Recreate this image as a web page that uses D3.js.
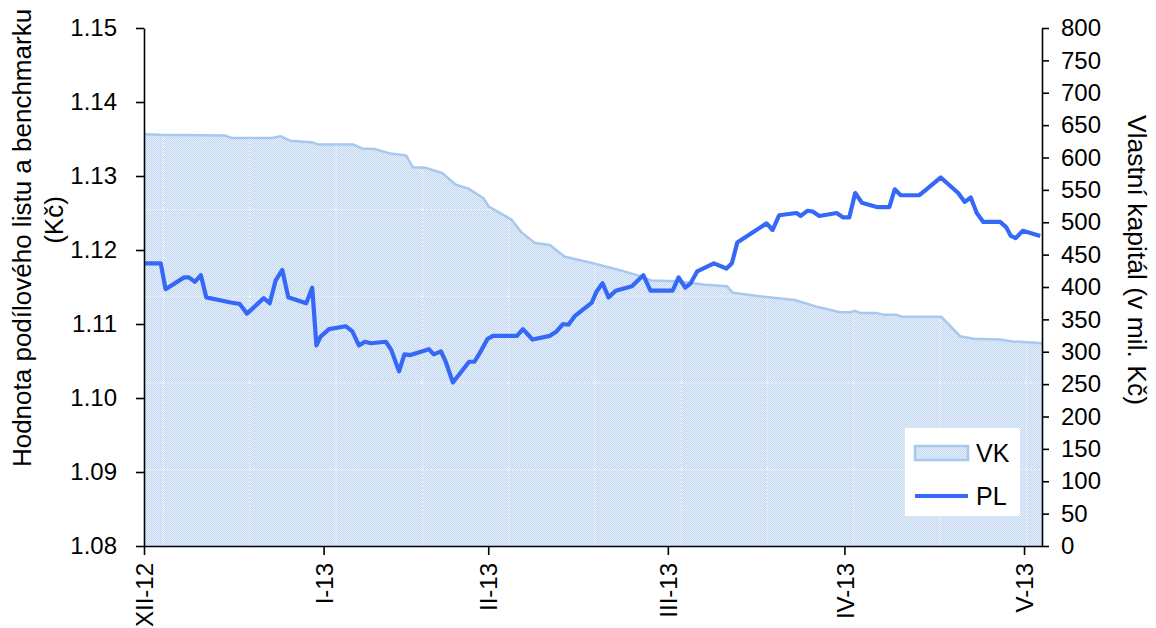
<!DOCTYPE html>
<html><head><meta charset="utf-8">
<script src="https://cdn.jsdelivr.net/npm/d3@7"></script>
<style>
body{margin:0;background:#fff}
text{font-family:"Liberation Sans",Arial,Helvetica,sans-serif;fill:#000}
</style>
</head><body>
<svg id="c" width="1156" height="628"></svg>
<script>
// ---- data ----
const xTickPos = [0, 30, 57.5, 87.5, 117, 147];
const xTickLabels = ["XII-12", "I-13", "II-13", "III-13", "IV-13", "V-13"];
const leftTicks = [1.08, 1.09, 1.10, 1.11, 1.12, 1.13, 1.14, 1.15];
const rightTicks = [0, 50, 100, 150, 200, 250, 300, 350, 400, 450, 500, 550, 600, 650, 700, 750, 800];

// PL (hodnota podílového listu) – day position, value in Kč
const plIdx = [0,2.8,3.6,6.7,7.5,8.5,9.5,10.4,14.5,16.0,17.2,20.0,21.0,22.0,23.1,24.1,27.1,28.1,28.8,29.5,30.9,33.7,34.8,35.9,36.9,37.9,40.4,41.3,42.6,43.5,44.5,47.6,48.4,49.6,50.4,51.6,54.3,55.2,56.1,57.4,58.3,62.3,63.3,64.9,67.8,68.9,70.0,70.9,72.0,74.8,75.6,76.6,77.6,78.8,81.5,83.4,84.6,88.3,89.3,90.4,91.3,92.4,95.2,97.3,98.2,99.1,104.0,105.0,106.1,109.0,109.7,110.8,111.7,112.8,115.7,116.8,117.8,118.8,119.9,122.4,124.5,125.4,126.4,129.5,130.4,131.6,133.1,136.0,137.1,138.1,139.1,140.2,143.0,144.0,144.8,145.6,146.8,149.7];
const plVal = [1.1182,1.1182,1.1147,1.1163,1.1163,1.1157,1.1166,1.1136,1.1129,1.1127,1.1114,1.1135,1.1128,1.1159,1.1173,1.1136,1.1128,1.1149,1.1071,1.1083,1.1093,1.1097,1.1090,1.1071,1.1076,1.1074,1.1076,1.1065,1.1036,1.1059,1.1058,1.1066,1.1059,1.1063,1.1049,1.1021,1.1049,1.1049,1.1061,1.1080,1.1084,1.1084,1.1093,1.1079,1.1084,1.1090,1.1100,1.1099,1.1111,1.1129,1.1144,1.1155,1.1136,1.1145,1.1151,1.1166,1.1145,1.1145,1.1163,1.1149,1.1155,1.1171,1.1182,1.1175,1.1182,1.1210,1.1236,1.1227,1.1247,1.1250,1.1246,1.1253,1.1252,1.1246,1.1250,1.1244,1.1244,1.1277,1.1264,1.1258,1.1258,1.1282,1.1274,1.1274,1.1280,1.1288,1.1298,1.1277,1.1265,1.1271,1.1250,1.1238,1.1238,1.1231,1.1219,1.1216,1.1226,1.1219];

// VK (vlastní kapitál) – day position, value in mil. Kč
const vkIdx = [0,2.8,13.5,14.7,21.4,22.8,24.4,28.3,29.1,35.0,36.4,38.6,41.2,43.8,44.9,47.1,49.8,52.1,54.2,56.7,57.6,59.5,61.4,63.1,65.3,67.8,70.2,74.8,79.5,82.5,84.7,89.0,93.4,97.4,98.4,102.5,108.7,112.2,116.3,117.9,118.8,119.6,122.4,123.6,125.8,126.6,133.2,136.3,138.6,143.0,145.0,146.9,150];
const vkVal = [636,635,634,630,630,633,626,623,620,620,614,613,606,603,585,584,576,558,552,537,524,514,504,484,468,465,447,437,426,418,410,409,404,401,391,386,380,370,361,361,363,360,360,357,357,354,354,324,320,319,316,315,313];

const leftTitle1 = "Hodnota podílového listu a benchmarku";
const leftTitle2 = "(Kč)";
const rightTitle = "Vlastní kapitál (v mil. Kč)";
const legendLabels = ["VK", "PL"];

// ---- chart ----
const svg = d3.select("#c");
const X0 = 144, X1 = 1042, YT = 28, YB = 546;
const x = d3.scaleLinear().domain([0, 150]).range([X0, X1]);
const yL = d3.scaleLinear().domain([1.08, 1.15]).range([YB, YT]);
const yR = d3.scaleLinear().domain([0, 800]).range([YB, YT]);

const pl = plIdx.map((d, i) => ({ i: d, v: plVal[i] }));
const vk = vkIdx.map((d, i) => ({ i: d, v: vkVal[i] }));

const defs = svg.append("defs");
const chk = defs.append("pattern").attr("id", "chk").attr("patternUnits", "userSpaceOnUse")
  .attr("width", 2).attr("height", 2);
chk.append("rect").attr("width", 2).attr("height", 2).attr("fill", "#e6eefa");
chk.append("rect").attr("width", 1).attr("height", 1).attr("fill", "#c2d8f3");
chk.append("rect").attr("x", 1).attr("y", 1).attr("width", 1).attr("height", 1).attr("fill", "#c2d8f3");

const grid = defs.append("pattern").attr("id", "grd").attr("patternUnits", "userSpaceOnUse")
  .attr("x", 163).attr("y", 209).attr("width", 86.3).attr("height", 86.7);
grid.append("line").attr("x1", 0.5).attr("x2", 0.5).attr("y1", 0).attr("y2", 86.7)
  .attr("stroke", "#fff").attr("stroke-width", 1).attr("stroke-dasharray", "2,2").attr("opacity", 0.75);
grid.append("line").attr("y1", 0.5).attr("y2", 0.5).attr("x1", 0).attr("x2", 86.3)
  .attr("stroke", "#fff").attr("stroke-width", 1).attr("stroke-dasharray", "2,2").attr("opacity", 0.75);

const area = d3.area().x(d => x(d.i)).y0(YB).y1(d => yR(d.v));
svg.append("path").datum(vk).attr("d", area).attr("fill", "url(#chk)");
svg.append("path").datum(vk).attr("d", area).attr("fill", "url(#grd)");
svg.append("path").datum(vk).attr("d", d3.line().x(d => x(d.i)).y(d => yR(d.v)))
  .attr("fill", "none").attr("stroke", "#a8c8ee").attr("stroke-width", 2.5).attr("stroke-linejoin", "round");

svg.append("path").datum(pl).attr("d", d3.line().x(d => x(d.i)).y(d => yL(d.v)))
  .attr("fill", "none").attr("stroke", "#3668f8").attr("stroke-width", 4.2).attr("stroke-linejoin", "round");

// axes
function style(g, fs) {
  g.selectAll(".domain").attr("stroke", "#000").attr("stroke-width", 1.6);
  g.selectAll(".tick line").attr("stroke", "#000").attr("stroke-width", 1.6);
  g.selectAll("text").style("font-size", fs + "px").attr("fill", "#000");
}
const gL = svg.append("g").attr("transform", `translate(${X0},0)`)
  .call(d3.axisLeft(yL).tickValues(leftTicks).tickFormat(d3.format(".2f")).tickSize(8).tickSizeOuter(0).tickPadding(19));
style(gL, 24);
gL.attr("font-family", null);

const gR = svg.append("g").attr("transform", `translate(${X1},0)`)
  .call(d3.axisRight(yR).tickValues(rightTicks).tickFormat(d3.format("d")).tickSize(7).tickSizeOuter(0).tickPadding(12));
style(gR, 24);
gR.attr("font-family", null);

const gB = svg.append("g").attr("transform", `translate(0,${YB})`)
  .call(d3.axisBottom(x).tickValues(xTickPos).tickFormat((d, i) => xTickLabels[i]).tickSize(9).tickSizeOuter(0));
style(gB, 24);
gB.attr("font-family", null);
gB.selectAll("text").attr("transform", "rotate(-90)").attr("text-anchor", "end")
  .attr("x", -17).attr("y", 0).attr("dy", "0.36em");

// titles
svg.append("text").attr("transform", "translate(31,238) rotate(-90)").attr("text-anchor", "middle")
  .style("font-size", "26px").text(leftTitle1);
svg.append("text").attr("transform", "translate(63,220) rotate(-90)").attr("text-anchor", "middle")
  .style("font-size", "26px").text(leftTitle2);
svg.append("text").attr("transform", "translate(1128,260) rotate(90)").attr("text-anchor", "middle")
  .style("font-size", "26.5px").text(rightTitle);

// legend
const lg = svg.append("g");
lg.append("rect").attr("x", 905).attr("y", 428).attr("width", 115).attr("height", 88).attr("fill", "#fff");
lg.append("rect").attr("x", 915).attr("y", 446).attr("width", 53).attr("height", 14)
  .attr("fill", "url(#chk)").attr("stroke", "#a8c8ee").attr("stroke-width", 2.5);
lg.append("line").attr("x1", 915).attr("x2", 968).attr("y1", 496).attr("y2", 496)
  .attr("stroke", "#3668f8").attr("stroke-width", 4.2);
lg.append("text").attr("x", 976).attr("y", 453).attr("dy", "0.36em").style("font-size", "25px").text(legendLabels[0]);
lg.append("text").attr("x", 976).attr("y", 496).attr("dy", "0.36em").style("font-size", "25px").text(legendLabels[1]);
</script>
</body></html>
